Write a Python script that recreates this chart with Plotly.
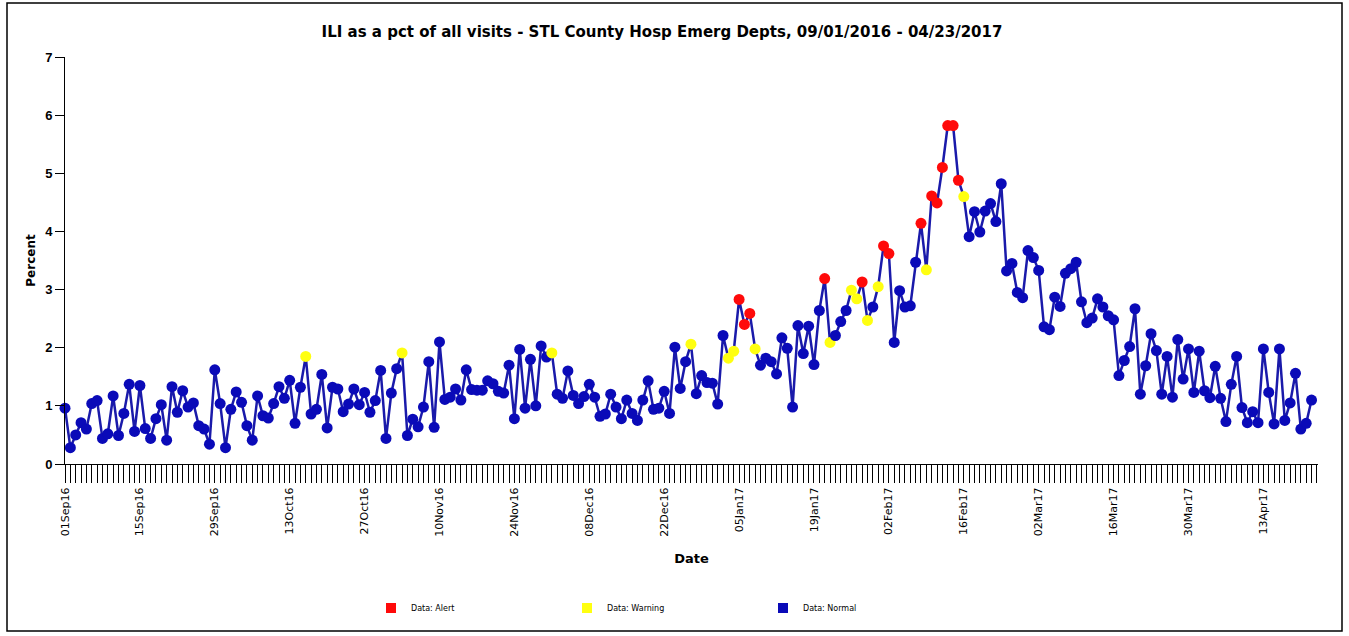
import pandas as pd
import plotly.graph_objects as go

# ---------------- data ----------------
start_date = "2016-09-01"

ili_pct = [
    0.96, 0.28, 0.50, 0.71, 0.60, 1.04, 1.09, 0.44, 0.52, 1.17,
    0.49, 0.87, 1.37, 0.56, 1.35, 0.61, 0.44, 0.78, 1.02, 0.41,
    1.33, 0.89, 1.26, 0.98, 1.05, 0.66, 0.60, 0.34, 1.62, 1.04,
    0.28, 0.94, 1.24, 1.06, 0.66, 0.41, 1.17, 0.83, 0.79, 1.04,
    1.33, 1.13, 1.44, 0.70, 1.32, 1.85, 0.86, 0.94, 1.54, 0.62,
    1.32, 1.29, 0.90, 1.03, 1.29, 1.02, 1.23, 0.89, 1.09, 1.61,
    0.44, 1.22, 1.64, 1.91, 0.49, 0.77, 0.64, 0.98, 1.76, 0.63,
    2.10, 1.11, 1.15, 1.29, 1.10, 1.62, 1.28, 1.27, 1.27, 1.43,
    1.38, 1.25, 1.22, 1.70, 0.78, 1.97, 0.96, 1.80, 1.00, 2.03,
    1.84, 1.91, 1.20, 1.13, 1.60, 1.18, 1.04, 1.16, 1.37, 1.15,
    0.82, 0.86, 1.20, 0.98, 0.78, 1.10, 0.87, 0.75, 1.10, 1.43,
    0.94, 0.96, 1.25, 0.87, 2.01, 1.30, 1.76, 2.06, 1.21, 1.52,
    1.40, 1.39, 1.03, 2.21, 1.82, 1.94, 2.83, 2.40, 2.59, 1.98,
    1.70, 1.82, 1.76, 1.55, 2.17, 1.99, 0.98, 2.38, 1.90, 2.37,
    1.71, 2.64, 3.19, 2.09, 2.21, 2.45, 2.64, 2.99, 2.84, 3.13,
    2.47, 2.70, 3.05, 3.75, 3.62, 2.09, 2.98, 2.70, 2.72, 3.47,
    4.14, 3.34, 4.61, 4.49, 5.10, 5.82, 5.82, 4.88, 4.60, 3.91,
    4.34, 3.99, 4.35, 4.48, 4.17, 4.82, 3.32, 3.45, 2.95, 2.86,
    3.67, 3.55, 3.33, 2.36, 2.31, 2.87, 2.71, 3.28, 3.36, 3.47,
    2.79, 2.43, 2.51, 2.84, 2.70, 2.55, 2.48, 1.52, 1.78, 2.02,
    2.67, 1.20, 1.69, 2.24, 1.95, 1.20, 1.85, 1.15, 2.14, 1.46,
    1.98, 1.23, 1.94, 1.26, 1.14, 1.68, 1.13, 0.73, 1.37, 1.85,
    0.97, 0.71, 0.90, 0.71, 1.98, 1.23, 0.69, 1.98, 0.75, 1.05,
    1.56, 0.60, 0.70, 1.10,
]

alert_dates = [
    "2017-01-05", "2017-01-06", "2017-01-07", "2017-01-21", "2017-01-28",
    "2017-02-01", "2017-02-02", "2017-02-08", "2017-02-10", "2017-02-11",
    "2017-02-12", "2017-02-13", "2017-02-14", "2017-02-15",
]
warning_dates = [
    "2016-10-16", "2016-11-03", "2016-12-01", "2016-12-27", "2017-01-03",
    "2017-01-04", "2017-01-08", "2017-01-22", "2017-01-26", "2017-01-27",
    "2017-01-29", "2017-01-31", "2017-02-09", "2017-02-16",
]

legend_names = ["Data: Alert", "Data: Warning", "Data: Normal"]
title_text = "ILI as a pct of all visits - STL County Hosp Emerg Depts, 09/01/2016 - 04/23/2017"
x_range = ["2016-09-01 00:00", "2017-04-23 05:00"]

# ---------------- style ----------------
RED = "#FF0A0A"
YELLOW = "#FFFF10"
BLUE = "#0A0AB8"
LINE_BLUE = "#1A1AAA"
COMIC = "DejaVu Sans"

W, H = 1349, 636
ML, MR, MT, MB = 65, 31, 57, 172
PW, PH = W - ML - MR, H - MT - MB


def px_x(p):
    return (p - ML) / PW


def px_y(p):
    return (H - MB - p) / PH


dates = pd.date_range(start_date, periods=len(ili_pct), freq="D")
date_str = list(dates.strftime("%Y-%m-%d"))
colors = []
for d in date_str:
    if d in alert_dates:
        colors.append(RED)
    elif d in warning_dates:
        colors.append(YELLOW)
    else:
        colors.append(BLUE)

fig = go.Figure()
fig.add_trace(go.Scatter(
    x=dates, y=ili_pct, mode="lines+markers",
    line=dict(color=LINE_BLUE, width=2.5),
    marker=dict(color=colors, size=11, line=dict(width=0)),
    showlegend=False, cliponaxis=False,
))
for name, col in zip(legend_names, [RED, YELLOW, BLUE]):
    fig.add_trace(go.Scatter(
        x=[None], y=[None], mode="markers", name=name,
        marker=dict(symbol="square", size=10, color=col),
    ))

fig.update_layout(
    width=W, height=H,
    margin=dict(l=ML, r=MR, t=MT, b=MB),
    paper_bgcolor="white", plot_bgcolor="white",
    title=dict(
        text=title_text, xref="paper", x=px_x(662), xanchor="center",
        yref="container", y=1 - 32 / H, yanchor="middle",
        font=dict(family=COMIC, size=15, color="black", weight="bold"),
    ),
    xaxis=dict(
        type="date", range=x_range,
        tickformat="%d%b%y", tick0=start_date, dtick=14 * 86400000,
        ticks="outside", ticklen=18, tickwidth=1, tickcolor="black",
        tickangle=-90,
        tickfont=dict(family=COMIC, size=11, color="black"),
        showline=True, linecolor="black", linewidth=1,
        showgrid=False, zeroline=False,
        minor=dict(tick0=start_date, dtick=86400000, ticks="outside",
                   ticklen=18, tickwidth=1, tickcolor="black", showgrid=False),
        title=dict(text="Date", standoff=18,
                   font=dict(family=COMIC, size=13, color="black", weight="bold")),
    ),
    yaxis=dict(
        range=[0, 7], dtick=1, ticks="outside", ticklen=9, tickwidth=1,
        tickcolor="black",
        tickfont=dict(family="Liberation Sans", size=13, color="black", weight="bold"),
        showline=True, linecolor="black", linewidth=1,
        showgrid=False, zeroline=False,
        title=dict(text="Percent", standoff=6,
                   font=dict(family=COMIC, size=12, color="black", weight="bold")),
    ),
    legend=dict(
        orientation="h", x=px_x(371), xanchor="left",
        y=px_y(608), yanchor="middle",
        entrywidth=151, entrywidthmode="pixels",
        font=dict(family=COMIC, size=8, color="black"),
        itemwidth=30, bgcolor="rgba(0,0,0,0)",
    ),
    shapes=[dict(
        type="rect", xref="paper", yref="paper",
        x0=px_x(7), x1=px_x(1342), y0=px_y(631), y1=px_y(3),
        line=dict(color="black", width=1.5), fillcolor="rgba(0,0,0,0)",
        layer="below",
    )],
)

fig.write_html("out.html", config={"displayModeBar": False},
               post_script="document.body.style.margin='0';")
